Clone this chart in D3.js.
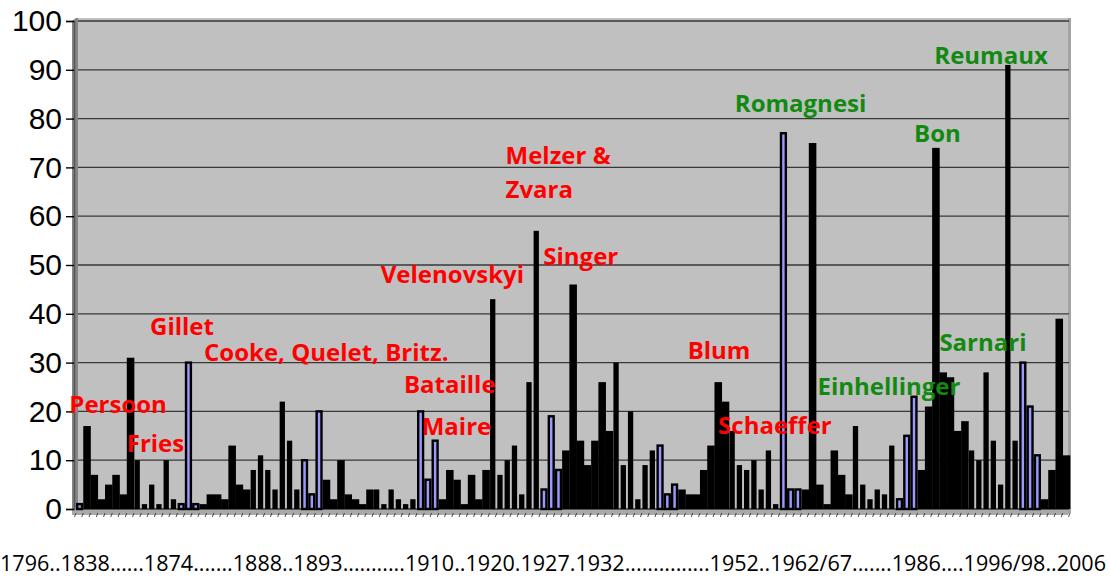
<!DOCTYPE html>
<html>
<head>
<meta charset="utf-8">
<script src="https://cdn.jsdelivr.net/npm/d3@7"></script>
<style>
  body { margin: 0; background: #fff; }
  svg { display: block; }
</style>
</head>
<body>
<svg width="1110" height="577"></svg>
<script>
// new taxa per work, left to right
const counts = [
  1, 17, 7, 2, 5, 7, 3, 31, 10, 1, 5, 1, 10, 2, 1, 30, 1, 1, 3, 3,
  2, 13, 5, 4, 8, 11, 8, 4, 22, 14, 4, 10, 3, 20, 6, 2, 10, 3, 2, 1,
  4, 4, 1, 4, 2, 1, 2, 20, 6, 14, 2, 8, 6, 1, 7, 2, 8, 43, 7, 10,
  13, 3, 26, 57, 4, 19, 8, 12, 46, 14, 9, 14, 26, 16, 30, 9, 20, 2, 9, 12,
  13, 3, 5, 4, 3, 3, 8, 13, 26, 22, 16, 9, 8, 10, 4, 12, 1, 77, 4, 4,
  4, 75, 5, 1, 12, 7, 3, 17, 5, 2, 4, 3, 13, 2, 15, 23, 8, 21, 74, 28,
  27, 16, 18, 12, 10, 28, 14, 5, 91, 14, 30, 21, 11, 2, 8, 39, 11
];
const yTicks = [0, 10, 20, 30, 40, 50, 60, 70, 80, 90, 100];
const periodText = "1796..1838......1874.......1888..1893...........1910..1920.1927.1932...............1952..1962/67.......1986....1996/98..2006";

// author labels, the school they belong to, and where they sit (bar index, value)
const authors = ["Persoon", "Fries", "Gillet", "Cooke, Quelet, Britz.", "Velenovskyi", "Bataille",
  "Maire", "Melzer &", "Zvara", "Singer", "Blum", "Schaeffer",
  "Romagnesi", "Bon", "Einhellinger", "Sarnari", "Reumaux"];
const authorGroup = ["old", "old", "old", "old", "old", "old",
  "old", "old", "old", "old", "old", "old",
  "new", "new", "new", "new", "new"];
const authorAt = [[-0.92, 19.7], [6.99, 11.7], [10.2, 35.7], [17.64, 30.3], [42.0, 46.3], [45.2, 23.8],
  [47.65, 15.2], [59.2, 70.7], [59.2, 63.7], [64.4, 50.0], [84.3, 30.7], [88.5, 15.4],
  [90.8, 81.4], [115.5, 75.3], [102.2, 23.4], [119.0, 32.4], [118.3, 91.2]];

const svg = d3.select("svg");

const x = d3.scaleBand().domain(d3.range(counts.length)).range([76, 1070]).padding(0);
const bw = x.bandwidth();
const xi = d3.scaleLinear().domain([0, 1]).range([x(0), x(0) + bw]);
const y = d3.scaleLinear().domain([0, 100]).range([509, 21]);
const colour = d3.scaleOrdinal().domain(["old", "new"]).range(["#ff0000", "#128a12"]);

// plot area with the little 3D wall and floor
svg.append("rect").attr("x", 76).attr("y", 18).attr("width", 994).attr("height", 494).attr("fill", "#c0c0c0");
svg.append("path").attr("d", "M72,21 L76,18 L78,18 L78,511 L72,514 Z").attr("fill", "#858585");
svg.append("path").attr("d", "M72,509 L1070,509 L1070,512 L1068,515 L72,515 Z").attr("fill", "#a9a9a9");
svg.append("rect").attr("x", 1068).attr("y", 18).attr("width", 3).attr("height", 495).attr("fill", "#a3a3a3");

// gridlines
svg.append("g")
  .selectAll("line")
  .data(yTicks)
  .enter()
  .append("line")
  .attr("x1", 78).attr("x2", 1069)
  .attr("y1", d => y(d)).attr("y2", d => y(d))
  .attr("stroke", "#383838")
  .attr("stroke-width", 1.3);

// y axis
const yAxis = svg.append("g")
  .attr("transform", "translate(74,0)")
  .call(d3.axisLeft(y).tickValues(yTicks).tickSize(8).tickPadding(4));
yAxis.select(".domain").attr("stroke", "#555").attr("stroke-width", 1.5);
yAxis.selectAll(".tick line").attr("stroke", "#000").attr("stroke-width", 1.4);
yAxis.selectAll(".tick text")
  .attr("font-family", "'Liberation Sans', Arial, sans-serif")
  .attr("font-size", 30)
  .attr("fill", "#000");

// small category marks under the floor
svg.append("g")
  .selectAll("line")
  .data(d3.range(counts.length + 1))
  .enter()
  .append("line")
  .attr("x1", d => xi(d)).attr("x2", d => xi(d) - 1.5)
  .attr("y1", 513).attr("y2", 517)
  .attr("stroke", "#222")
  .attr("stroke-width", 0.8);

// the scan's moire: every ~16.5 bars the blue fill shows, then bars merge, then they split
const phase = i => (i + 2.5) % 16.5;

const bars = svg.append("g")
  .selectAll(".bar")
  .data(counts)
  .enter()
  .append("rect")
  .classed("bar", true)
  .attr("x", (d, i) => phase(i) < 3 ? x(i) + 1.2 : phase(i) < 9.75 ? x(i) : x(i) + 0.5)
  .attr("width", (d, i) => phase(i) < 3 ? bw - 2.4 : phase(i) < 9.75 ? bw + 0.3 : 5.3)
  .attr("y", d => y(d))
  .attr("height", d => y(0) - y(d))
  .attr("fill", (d, i) => phase(i) < 3 ? "#9999ff" : "#000")
  .attr("stroke", (d, i) => phase(i) < 3 ? "#000" : "none")
  .attr("stroke-width", 2.4);

// author labels
svg.append("g")
  .selectAll("text")
  .data(authors)
  .enter()
  .append("text")
  .attr("x", (d, i) => xi(authorAt[i][0]))
  .attr("y", (d, i) => y(authorAt[i][1]))
  .attr("font-family", "'Open Sans', sans-serif")
  .attr("font-weight", "bold")
  .attr("font-size", 24)
  .attr("fill", (d, i) => colour(authorGroup[i]))
  .text(d => d);

// period text under the chart
svg.append("text")
  .attr("x", 0)
  .attr("y", 571)
  .attr("font-family", "'Open Sans', sans-serif")
  .attr("font-size", 21)
  .attr("fill", "#000")
  .attr("textLength", 1106)
  .attr("lengthAdjust", "spacingAndGlyphs")
  .text(periodText);
</script>
</body>
</html>
